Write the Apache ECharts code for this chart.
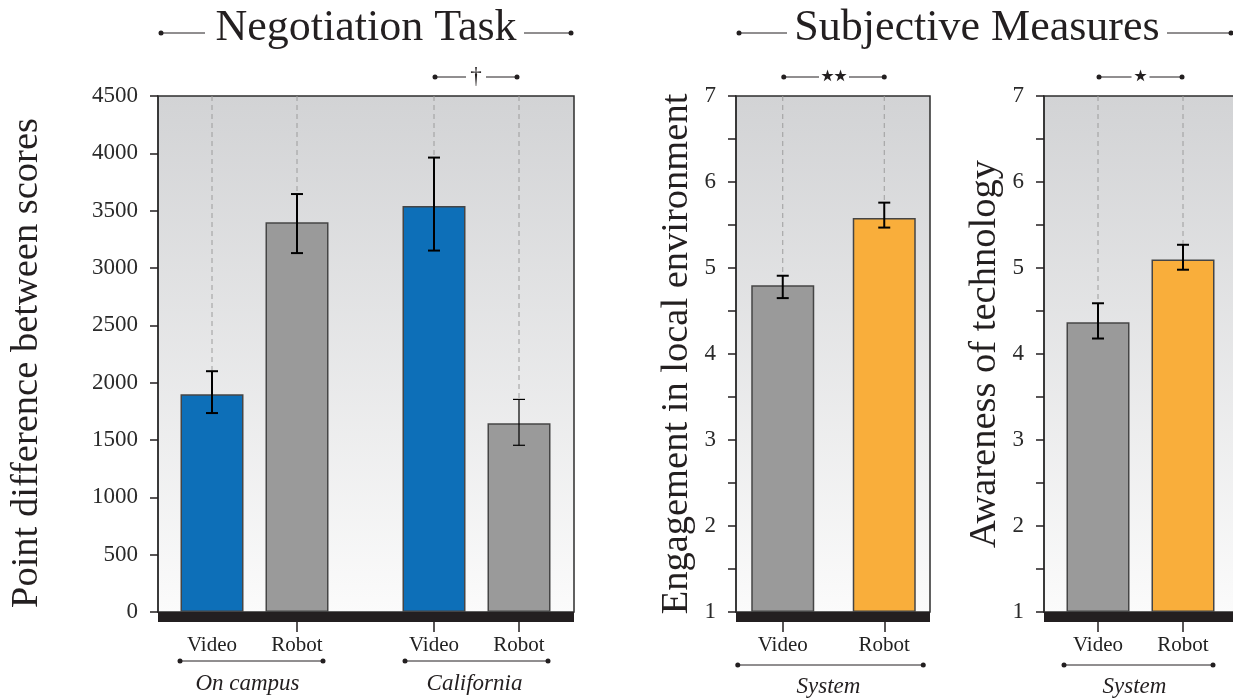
<!DOCTYPE html>
<html>
<head>
<meta charset="utf-8">
<script src="https://cdn.jsdelivr.net/npm/echarts@6/dist/echarts.min.js"></script>
<style>
  html, body { margin: 0; padding: 0; background: #ffffff; }
  #chart { width: 1233px; height: 700px; }
</style>
</head>
<body>
<div id="chart"></div>
<script>
// ---------- data ----------
const conditions = ['Video', 'Robot'];

// Negotiation task: point difference between scores (mean, error range)
const campusMean = [1900, 3400];
const campusLow = [1735, 3130];
const campusHigh = [2100, 3645];
const californiaMean = [3540, 1645];
const californiaLow = [3152, 1454];
const californiaHigh = [3963, 1854];
const pointTicks = [0, 500, 1000, 1500, 2000, 2500, 3000, 3500, 4000, 4500];

// Subjective measures on a 1-7 scale
const engagementMean = [4.80, 5.58];
const engagementLow = [4.65, 5.47];
const engagementHigh = [4.91, 5.76];
const awarenessMean = [4.37, 5.10];
const awarenessLow = [4.18, 4.98];
const awarenessHigh = [4.59, 5.27];
const likertTicks = [1, 2, 3, 4, 5, 6, 7];

// ---------- look ----------
const SERIF = '"Liberation Serif", "Times New Roman", serif';
const STAR_FONT = '"DejaVu Sans", sans-serif';
const INK = '#231f20';
const BLUE = '#0d6fb8';
const GREY = '#9a9a9a';
const ORANGE = '#f9ae3b';
const PLOT_TOP = 96;
const PLOT_H = 516;

const panelFill = {
  type: 'linear', x: 0, y: 0, x2: 0, y2: 1,
  colorStops: [{ offset: 0, color: '#d2d3d5' }, { offset: 1, color: '#fbfbfb' }]
};

const chart = echarts.init(document.getElementById('chart'), null, { renderer: 'canvas' });

const grids = [], xAxes = [], yAxes = [], series = [];

// A framed panel: gradient box, y axis with ticks/labels and the heavy base band
function addFrame(left, width, ticks, name, nameGap, minor, namePad) {
  const idx = grids.length;
  grids.push({
    left: left, top: PLOT_TOP, width: width, height: PLOT_H,
    show: true, backgroundColor: panelFill, borderColor: '#2e2e2e', borderWidth: 1.5,
    containLabel: false, outerBoundsMode: 'none', z: 0
  });
  xAxes.push({
    gridIndex: idx, type: 'value', min: 0, max: 1, position: 'bottom', offset: 5,
    axisLine: { show: true, onZero: false, lineStyle: { color: INK, width: 10, cap: 'butt' } },
    axisTick: { show: false }, axisLabel: { show: false }, splitLine: { show: false }, z: 5
  });
  yAxes.push({
    gridIndex: idx, type: 'value', position: 'left',
    min: ticks[0], max: ticks[ticks.length - 1], interval: ticks[1] - ticks[0],
    name: name, nameLocation: 'middle', nameRotate: 90, nameGap: nameGap,
    nameTextStyle: { fontFamily: SERIF, fontSize: 38.5, color: INK, padding: namePad || 0 },
    axisLine: { show: true, lineStyle: { color: '#2e2e2e', width: 1.5 } },
    axisTick: { show: true, inside: false, length: 8, lineStyle: { color: INK, width: 1.5 } },
    minorTick: { show: !!minor, splitNumber: 2, length: 8, lineStyle: { color: INK, width: 1.5 } },
    axisLabel: {
      show: true, margin: 20, fontFamily: SERIF, fontSize: 23, color: '#2a2a2a',
      formatter: function (v) { return String(v); }
    },
    splitLine: { show: false }
  });
  return idx;
}

// A bar group drawn on top of a frame: category axis, bars, whiskers, guide lines
function addBars(left, width, ticks, mean, low, high, colors, whiskerW, hideTick) {
  const idx = grids.length;
  const yMin = ticks[0], yMax = ticks[ticks.length - 1];
  grids.push({
    left: left, top: PLOT_TOP, width: width, height: PLOT_H,
    show: false, containLabel: false, outerBoundsMode: 'none'
  });
  xAxes.push({
    gridIndex: idx, type: 'category', data: conditions, position: 'bottom', offset: 10,
    axisLine: { show: false, onZero: false },
    axisTick: {
      show: true, alignWithLabel: true, length: 10,
      interval: hideTick == null ? 0 : function (i) { return i !== hideTick; },
      lineStyle: { color: INK, width: 1.5 }
    },
    axisLabel: { show: true, margin: 13, fontFamily: SERIF, fontSize: 21, color: '#222' },
    splitLine: { show: false }
  });
  yAxes.push({
    gridIndex: idx, type: 'value', min: yMin, max: yMax, startValue: yMin, show: false,
    splitLine: { show: false }
  });
  series.push({
    type: 'bar', xAxisIndex: idx, yAxisIndex: idx, barWidth: 63, clip: true, silent: true,
    data: mean.map(function (v, i) { return { value: v, itemStyle: { color: colors[i] } }; }),
    itemStyle: { borderColor: '#454545', borderWidth: 1.5 }, z: 2
  });
  series.push({
    type: 'custom', xAxisIndex: idx, yAxisIndex: idx, silent: true, z: 3,
    encode: { x: 0, y: [1, 2] },
    data: low.map(function (lo, i) { return [i, lo, high[i]]; }),
    renderItem: function (params, api) {
      const i = api.value(0);
      const a = api.coord([i, api.value(1)]);
      const b = api.coord([i, api.value(2)]);
      const t = api.coord([i, yMax]);
      const w = whiskerW[i];
      const half = 6;
      return {
        type: 'group',
        children: [
          { type: 'line', shape: { x1: b[0], y1: t[1], x2: b[0], y2: b[1] - 1 },
            style: { stroke: '#9c9c9c', lineWidth: 1, lineDash: [5, 4] } },
          { type: 'line', shape: { x1: a[0], y1: a[1], x2: b[0], y2: b[1] },
            style: { stroke: '#000', lineWidth: w } },
          { type: 'line', shape: { x1: a[0] - half, y1: a[1], x2: a[0] + half, y2: a[1] },
            style: { stroke: '#000', lineWidth: w } },
          { type: 'line', shape: { x1: b[0] - half, y1: b[1], x2: b[0] + half, y2: b[1] },
            style: { stroke: '#000', lineWidth: w } }
        ]
      };
    }
  });
  return idx;
}

addFrame(158, 416, pointTicks, 'Point difference between scores', 112, false, [0, 18, 0, 0]);
const gCampus = addBars(169.5, 170, pointTicks, campusMean, campusLow, campusHigh, [BLUE, GREY], [2, 2], 0);
const gCalifornia = addBars(391.5, 170, pointTicks, californiaMean, californiaLow, californiaHigh, [BLUE, GREY], [2, 1.2], null);

addFrame(736, 194, likertTicks, 'Engagement in local environment', 40, true);
const gEngage = addBars(732, 203, likertTicks, engagementMean, engagementLow, engagementHigh, [GREY, ORANGE], [2, 2], null);

addFrame(1044, 194, likertTicks, 'Awareness of technology', 40, true);
const gAware = addBars(1055.5, 170, likertTicks, awarenessMean, awarenessLow, awarenessHigh, [GREY, ORANGE], [2, 2], null);

chart.setOption({
  animation: false,
  backgroundColor: '#ffffff',
  textStyle: { fontFamily: SERIF },
  grid: grids, xAxis: xAxes, yAxis: yAxes, series: series
});

// ---------- annotations: headers, significance brackets, group labels ----------
function cx(gridIdx, name) {
  return chart.convertToPixel({ xAxisIndex: gridIdx }, name);
}

function dotLine(x1, x2, y, dotLeft, dotRight) {
  const els = [{
    type: 'line', shape: { x1: x1, y1: y, x2: x2, y2: y },
    style: { stroke: INK, lineWidth: 1 }, z: 10
  }];
  if (dotLeft) els.push({ type: 'circle', shape: { cx: x1, cy: y, r: 2.5 }, style: { fill: INK }, z: 10 });
  if (dotRight) els.push({ type: 'circle', shape: { cx: x2, cy: y, r: 2.5 }, style: { fill: INK }, z: 10 });
  return els;
}

function header(text, x, y, leftLine, rightLine) {
  return [].concat(
    [{ type: 'text', x: x, y: y, z: 10,
       style: { text: text, font: '44px ' + SERIF, fill: INK, align: 'center', verticalAlign: 'middle' } }],
    dotLine(leftLine[0], leftLine[1], 33, true, false),
    dotLine(rightLine[0], rightLine[1], 33, false, true)
  );
}

// bracket between two bar centres; glyphs are set one by one, `step` px apart
function bracket(xa, xb, glyphs, step, gap, font, size, dy) {
  const mid = (xa + xb) / 2;
  const els = [].concat(
    dotLine(xa, mid - gap, 77, true, false),
    dotLine(mid + gap, xb, 77, false, true)
  );
  glyphs.forEach(function (g, k) {
    const x = mid + (k - (glyphs.length - 1) / 2) * step;
    els.push({ type: 'text', x: x, y: 77 + dy, z: 10,
      style: { text: g, font: size + 'px ' + font, fill: INK, align: 'center', verticalAlign: 'middle' } });
  });
  return els;
}

function groupLabel(text, x1, x2, lineY, textX, textY) {
  return [].concat(
    dotLine(x1, x2, lineY, true, true),
    [{ type: 'text', x: textX, y: textY, z: 10,
       style: { text: text, font: 'italic 23px ' + SERIF, fill: INK, align: 'center', verticalAlign: 'middle' } }]
  );
}

const calV = cx(gCalifornia, 'Video'), calR = cx(gCalifornia, 'Robot');
const engV = cx(gEngage, 'Video'), engR = cx(gEngage, 'Robot');
const awaV = cx(gAware, 'Video'), awaR = cx(gAware, 'Robot');
const camV = cx(gCampus, 'Video'), camR = cx(gCampus, 'Robot');

const elements = [].concat(
  header('Negotiation Task', 366, 28, [161, 205], [524, 571]),
  header('Subjective Measures', 977, 28, [739, 787], [1167, 1231]),
  bracket(calV + 1, calR - 2, ['\u2020'], 0, 10, SERIF, 23, 0),
  bracket(engV + 1, engR, ['\u22c6', '\u22c6'], 13, 15, STAR_FONT, 32, 1),
  bracket(awaV + 1, awaR - 1, ['\u22c6'], 0, 9, STAR_FONT, 32, 1),
  groupLabel('On campus', camV - 32, camR + 26, 661, (camV + camR) / 2 - 7, 684),
  groupLabel('California', calV - 29, calR + 29, 661, (calV + calR) / 2 - 2, 684),
  groupLabel('System', engV - 45, engR + 39, 665, (engV + engR) / 2 - 5, 687),
  groupLabel('System', awaV - 34, awaR + 30, 665, (awaV + awaR) / 2 - 6, 687)
);

chart.setOption({ graphic: { elements: elements } });
</script>
</body>
</html>
